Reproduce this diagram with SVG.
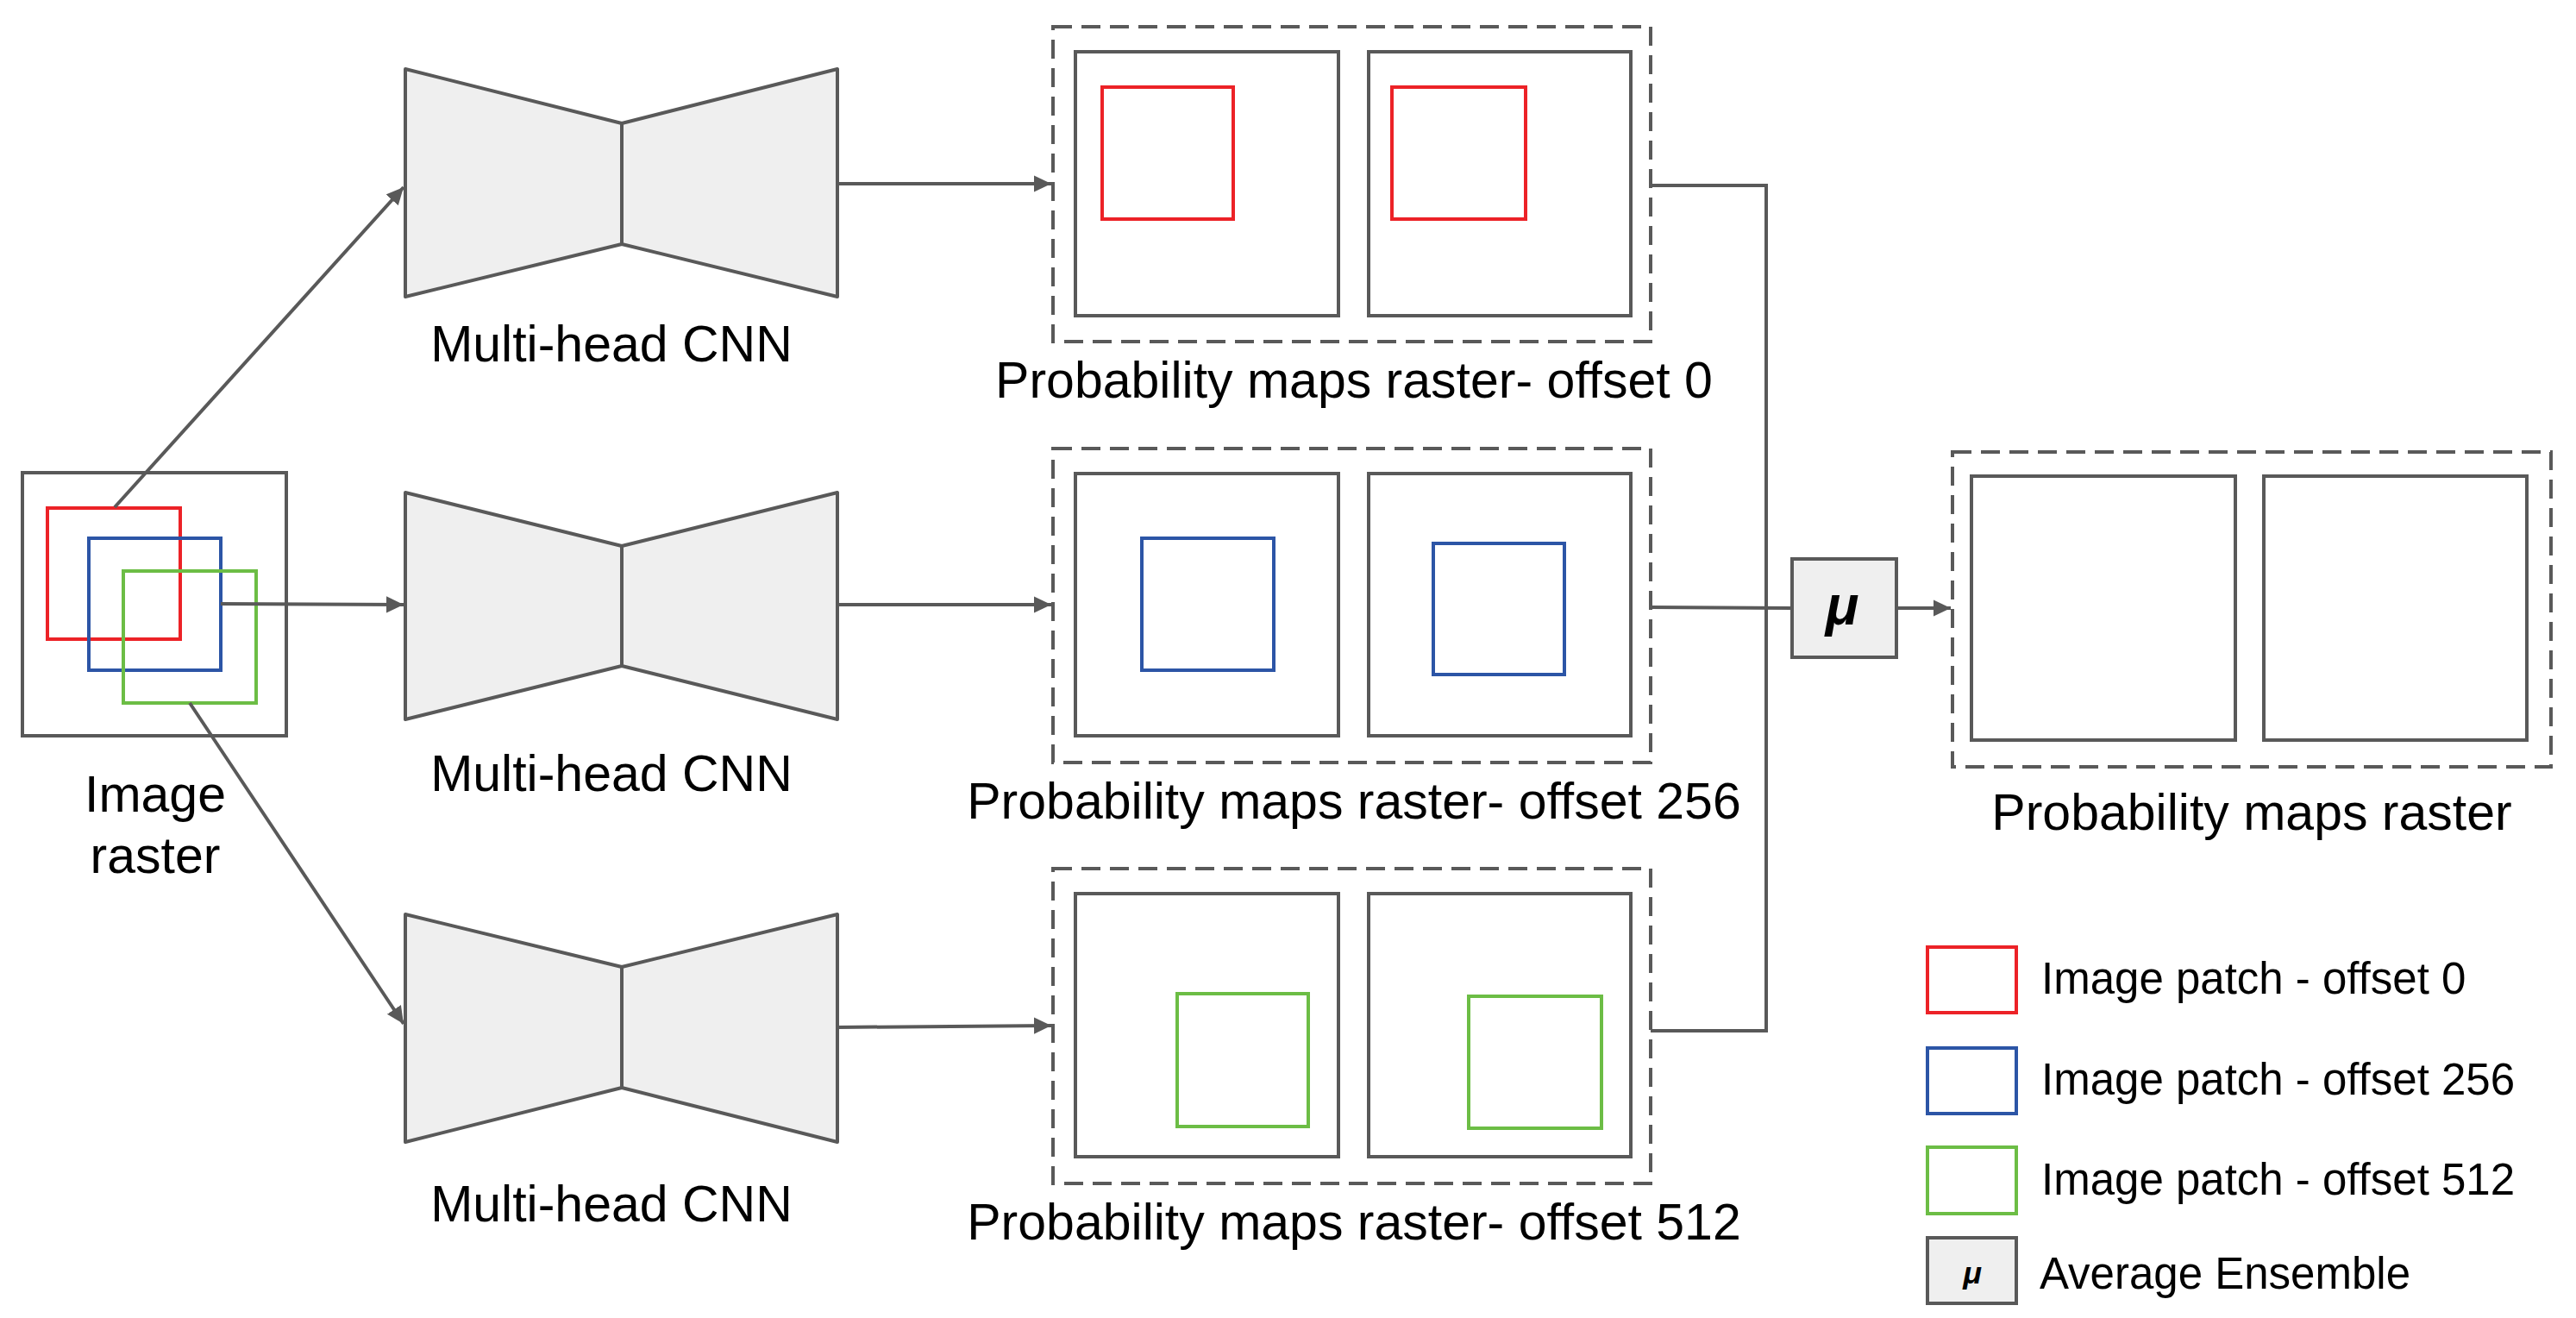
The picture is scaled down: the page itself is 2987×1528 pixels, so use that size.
<svg xmlns="http://www.w3.org/2000/svg" width="2987" height="1528" viewBox="0 0 2987 1528">
<style>
.s{fill:none;stroke:#595959;stroke-width:4}
.d{fill:none;stroke:#595959;stroke-width:4;stroke-dasharray:22 11}
.cnn{fill:#efefef;stroke:#595959;stroke-width:4;stroke-linejoin:round}
.r{fill:none;stroke:#ec2227;stroke-width:4}
.b{fill:none;stroke:#2c55a6;stroke-width:4}
.g{fill:none;stroke:#6cbd45;stroke-width:4}
.c{fill:none;stroke:#595959;stroke-width:4}
text{font-family:"Liberation Sans",Arial,sans-serif;font-size:59px;fill:#000}
.t{text-anchor:middle}
.l{font-size:51px}
</style>
<defs>
<marker id="a" markerWidth="6" markerHeight="6" refX="5" refY="3" orient="auto" markerUnits="strokeWidth"><path d="M0,0.6 L5,3 L0,5.4 z" fill="#595959"/></marker>
</defs>
<g id="image-raster">
<rect class="s" x="26" y="548" width="306" height="305"/>
<rect class="r" x="55" y="589" width="154" height="152"/>
<rect class="b" x="103" y="624" width="153" height="153"/>
<rect class="g" x="143" y="662" width="154" height="153"/>
<text class="t" x="180" y="941">Image</text>
<text class="t" x="180" y="1012">raster</text>
</g>
<g id="cnn1"><path class="cnn" d="M470,80 L721,143 L971,80 L971,344 L721,283 L470,344 Z M721,143 L721,283"/><text class="t" x="709" y="419">Multi-head CNN</text></g>
<g id="cnn2"><path class="cnn" d="M470,571 L721,633 L971,571 L971,834 L721,772 L470,834 Z M721,633 L721,772"/><text class="t" x="709" y="917">Multi-head CNN</text></g>
<g id="cnn3"><path class="cnn" d="M470,1060 L721,1121 L971,1060 L971,1324 L721,1261 L470,1324 Z M721,1121 L721,1261"/><text class="t" x="709" y="1416">Multi-head CNN</text></g>
<g id="prob0">
<rect class="d" x="1221" y="31" width="693" height="365"/>
<rect class="s" x="1247" y="60" width="305" height="306"/>
<rect class="s" x="1587" y="60" width="304" height="306"/>
<rect class="r" x="1278" y="101" width="152" height="153"/>
<rect class="r" x="1614" y="101" width="155" height="153"/>
<text class="t" x="1570" y="461">Probability maps raster- offset 0</text>
</g>
<g id="prob256">
<rect class="d" x="1221" y="520" width="693" height="364"/>
<rect class="s" x="1247" y="549" width="305" height="304"/>
<rect class="s" x="1587" y="549" width="304" height="304"/>
<rect class="b" x="1324" y="624" width="153" height="153"/>
<rect class="b" x="1662" y="630" width="152" height="152"/>
<text class="t" x="1570" y="949">Probability maps raster- offset 256</text>
</g>
<g id="prob512">
<rect class="d" x="1221" y="1007" width="693" height="365"/>
<rect class="s" x="1247" y="1036" width="305" height="305"/>
<rect class="s" x="1587" y="1036" width="304" height="305"/>
<rect class="g" x="1365" y="1152" width="152" height="154"/>
<rect class="g" x="1703" y="1155" width="154" height="153"/>
<text class="t" x="1570" y="1437">Probability maps raster- offset 512</text>
</g>
<g id="mu"><rect x="2078" y="648" width="121" height="114" fill="#efefef" stroke="#595959" stroke-width="4"/><text class="t" x="2136" y="724" style="font-weight:bold;font-style:italic;font-size:64px">μ</text></g>
<g id="prob-final">
<rect class="d" x="2264" y="524" width="694" height="365"/>
<rect class="s" x="2286" y="552" width="306" height="306"/>
<rect class="s" x="2625" y="552" width="305" height="306"/>
<text class="t" x="2611" y="962">Probability maps raster</text>
</g>
<g id="legend">
<rect class="r" x="2235" y="1098" width="103" height="76"/>
<rect class="b" x="2235" y="1215" width="103" height="76"/>
<rect class="g" x="2235" y="1330" width="103" height="77"/>
<rect x="2235" y="1435" width="103" height="76" fill="#efefef" stroke="#595959" stroke-width="4"/>
<text x="2287" y="1488" class="t" style="font-style:italic;font-weight:bold;font-size:36px">μ</text>
<text class="l" x="2367" y="1152">Image patch - offset 0</text>
<text class="l" x="2367" y="1269">Image patch - offset 256</text>
<text class="l" x="2367" y="1385">Image patch - offset 512</text>
<text class="l" x="2365" y="1494">Average Ensemble</text>
</g>
<g id="connectors">
<path class="c" d="M133,588 L468,217" marker-end="url(#a)"/>
<path class="c" d="M256,700 L468,701" marker-end="url(#a)"/>
<path class="c" d="M220,815 L468,1187" marker-end="url(#a)"/>
<path class="c" d="M971,213 L1219,213" marker-end="url(#a)"/>
<path class="c" d="M971,701 L1219,701" marker-end="url(#a)"/>
<path class="c" d="M971,1191 L1219,1189" marker-end="url(#a)"/>
<path class="c" d="M1914,215 L2048,215 L2048,1195 L1914,1195"/>
<path class="c" d="M1914,704 L2078,705"/>
<path class="c" d="M2199,705 L2262,705" marker-end="url(#a)"/>
</g>
</svg>
